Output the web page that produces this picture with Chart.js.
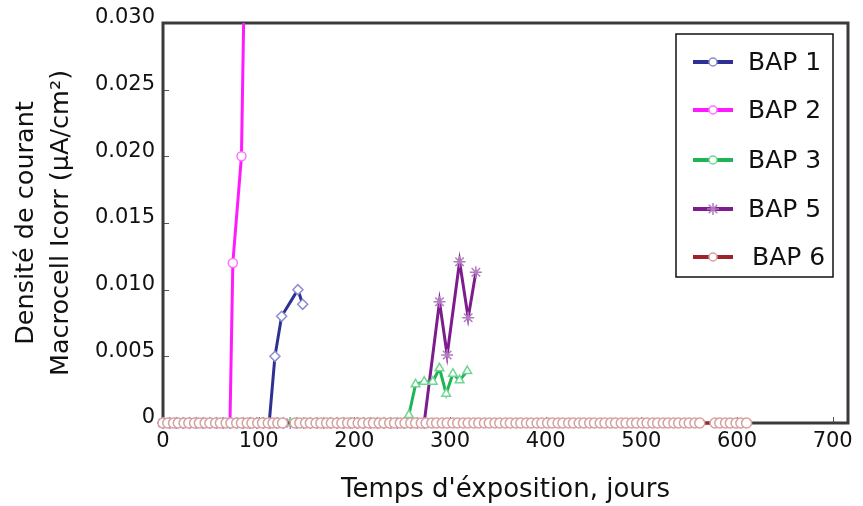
<!DOCTYPE html>
<html>
<head>
<meta charset="utf-8">
<script src="https://cdn.jsdelivr.net/npm/chart.js@4.4.1/dist/chart.umd.min.js"></script>
<style>
  html, body { margin: 0; padding: 0; background: #fff; }
</style>
</head>
<body>
<canvas id="icorrChart" width="863" height="506"></canvas>
<script>
// macrocell current density per specimen (days / uA/cm2)
var bap1Days = [0, 7, 14, 21, 28, 35, 42, 49, 56, 63, 70, 77, 84, 91, 98, 105, 111, 117, 124, 141, 146];
var bap1Icorr = [0, 0, 0, 0, 0, 0, 0, 0, 0, 0, 0, 0, 0, 0, 0, 0, 0, 0.0050, 0.0080, 0.0100, 0.0089];

var bap2Days = [0, 7, 14, 21, 28, 35, 42, 49, 56, 63, 70, 73, 82, 90];
var bap2Icorr = [0, 0, 0, 0, 0, 0, 0, 0, 0, 0, 0, 0.012, 0.020, 0.055];

var bap3Days = [0, 7, 14, 21, 28, 35, 42, 49, 56, 63, 70, 77, 84, 91, 98, 105, 112, 119, 126, 133,
    140, 147, 154, 161, 168, 175, 182, 189, 196, 203, 210, 217, 224, 231, 238, 245, 252,
    257, 264, 273, 282, 289, 296, 303, 310, 318];
var bap3Icorr = [0, 0, 0, 0, 0, 0, 0, 0, 0, 0, 0, 0, 0, 0, 0, 0, 0, 0, 0, 0,
    0, 0, 0, 0, 0, 0, 0, 0, 0, 0, 0, 0, 0, 0, 0, 0, 0,
    0.0006, 0.0029, 0.0031, 0.0031, 0.0041, 0.0022, 0.0037, 0.0032, 0.0039];

var bap5Days = [0, 7, 14, 21, 28, 35, 42, 49, 56, 63, 70, 77, 84, 91, 98, 105, 112, 119, 126, 133,
    140, 147, 154, 161, 168, 175, 182, 189, 196, 203, 210, 217, 224, 231, 238, 245, 252, 259, 266, 273,
    289, 297, 310, 319, 327];
var bap5Icorr = [0, 0, 0, 0, 0, 0, 0, 0, 0, 0, 0, 0, 0, 0, 0, 0, 0, 0, 0, 0,
    0, 0, 0, 0, 0, 0, 0, 0, 0, 0, 0, 0, 0, 0, 0, 0, 0, 0, 0, 0,
    0.0091, 0.0051, 0.0121, 0.0079, 0.0113];

var bap6Days = [0, 5, 11, 16, 22, 27, 33, 38, 44, 49, 55, 60, 66, 71, 77, 82, 88, 93, 99, 104,
    110, 115, 120, 125, 138, 143, 149, 154, 160, 165, 171, 176, 182, 187, 193, 198, 204, 209, 215, 220,
    226, 231, 237, 242, 248, 253, 259, 264, 270, 275, 281, 286, 292, 297, 303, 308, 314, 319, 325, 330,
    336, 341, 347, 352, 358, 363, 369, 374, 380, 385, 391, 396, 402, 407, 413, 418, 424, 429, 435, 440,
    446, 451, 457, 462, 468, 473, 479, 484, 490, 495, 501, 506, 512, 517, 523, 528, 534, 539, 545, 550,
    556, 561, 577, 582, 588, 593, 599, 604, 610];
var bap6Icorr = [0, 0, 0, 0, 0, 0, 0, 0, 0, 0, 0, 0, 0, 0, 0, 0, 0, 0, 0, 0,
    0, 0, 0, 0, 0, 0, 0, 0, 0, 0, 0, 0, 0, 0, 0, 0, 0, 0, 0, 0,
    0, 0, 0, 0, 0, 0, 0, 0, 0, 0, 0, 0, 0, 0, 0, 0, 0, 0, 0, 0,
    0, 0, 0, 0, 0, 0, 0, 0, 0, 0, 0, 0, 0, 0, 0, 0, 0, 0, 0, 0,
    0, 0, 0, 0, 0, 0, 0, 0, 0, 0, 0, 0, 0, 0, 0, 0, 0, 0, 0, 0,
    0, 0, 0, 0, 0, 0, 0, 0, 0];

var xTicks = [0, 100, 200, 300, 400, 500, 600, 700];
var yTicks = [0, 0.005, 0.010, 0.015, 0.020, 0.025, 0.030];

function toPoints(days, vals) {
    return days.map(function (d, i) { return { x: d, y: vals[i] }; });
}

var FONT = "'DejaVu Sans', sans-serif";
var TEXT = '#111';

function series(label, days, vals, line, marker, style, radius, order) {
    return {
        label: label,
        data: toPoints(days, vals),
        borderColor: line,
        borderWidth: 3,
        pointStyle: style,
        pointRadius: radius,
        pointBorderColor: marker,
        pointBackgroundColor: '#ffffff',
        pointBorderWidth: 1.5,
        tension: 0,
        order: order,
        clip: { left: 8, top: 0, right: 8, bottom: 8 }
    };
}

var datasets = [
    series('BAP 1', bap1Days, bap1Icorr, '#2e3192', '#8c8cd2', 'rectRot', 5, 2),
    series('BAP 2', bap2Days, bap2Icorr, '#ff1aff', '#ff70ff', 'circle', 4.5, 2),
    series('BAP 3', bap3Days, bap3Icorr, '#1fb556', '#6fd694', 'triangle', 5, 2),
    series('BAP 5', bap5Days, bap5Icorr, '#7d1d8d', '#b27ac0', 'star', 6, 2),
    series('BAP 6', bap6Days, bap6Icorr, '#a0222a', '#d6a0a0', 'circle', 5, 1)
];

// frame, inward tick marks and the boxed legend
var framePlugin = {
    id: 'frame',
    beforeDatasetsDraw: function (chart) {
        var ctx = chart.ctx, a = chart.chartArea;
        var xs = chart.scales.x, ys = chart.scales.y;
        ctx.save();
        ctx.strokeStyle = '#555';
        ctx.lineWidth = 1;
        ctx.beginPath();
        yTicks.forEach(function (v) {
            var y = Math.round(ys.getPixelForValue(v)) + 0.5;
            ctx.moveTo(a.left, y); ctx.lineTo(a.left + 6, y);
        });
        xTicks.forEach(function (v) {
            var x = Math.round(xs.getPixelForValue(v)) + 0.5;
            ctx.moveTo(x, a.bottom); ctx.lineTo(x, a.bottom - 6);
        });
        ctx.stroke();
        ctx.strokeStyle = '#3a3a3a';
        ctx.lineWidth = 3;
        ctx.strokeRect(a.left, a.top, a.right - a.left, a.bottom - a.top);
        ctx.restore();
    },
    afterDraw: function (chart) {
        var ctx = chart.ctx;
        var box = { x: 676, y: 34, w: 157, h: 243 };
        var rows = [62, 110, 160, 209, 257];
        ctx.save();
        ctx.fillStyle = '#fff';
        ctx.fillRect(box.x, box.y, box.w, box.h);
        ctx.strokeStyle = '#111';
        ctx.lineWidth = 1.5;
        ctx.strokeRect(box.x, box.y, box.w, box.h);
        chart.data.datasets.forEach(function (ds, i) {
            var y = rows[i];
            ctx.strokeStyle = ds.borderColor;
            ctx.lineWidth = 4;
            ctx.beginPath();
            ctx.moveTo(693, y); ctx.lineTo(733, y);
            ctx.stroke();
            ctx.fillStyle = '#fff';
            ctx.strokeStyle = ds.pointBorderColor;
            ctx.lineWidth = 1.5;
            Chart.helpers.drawPoint(ctx, {
                pointStyle: ds.pointStyle === 'star' ? 'star' : 'circle',
                radius: ds.pointStyle === 'star' ? 6 : 4,
                rotation: 0,
                borderWidth: 1.5
            }, 713, y);
            ctx.fillStyle = TEXT;
            ctx.font = '25px ' + FONT;
            ctx.textBaseline = 'middle';
            ctx.textAlign = 'left';
            ctx.fillText(ds.label, i === 4 ? 752 : 748, y + 1);
        });
        ctx.restore();
    }
};

new Chart(document.getElementById('icorrChart'), {
    type: 'line',
    data: { datasets: datasets },
    options: {
        responsive: false,
        animation: false,
        layout: { padding: { top: 23, right: 15, bottom: 0, left: 0 } },
        plugins: {
            legend: { display: false },
            tooltip: { enabled: false }
        },
        scales: {
            x: {
                type: 'linear',
                min: 0,
                max: 716,
                afterFit: function (s) { s.height = 83; },
                afterBuildTicks: function (s) {
                    s.ticks = xTicks.map(function (v) { return { value: v }; });
                },
                grid: { display: false, drawTicks: false },
                border: { display: false },
                ticks: {
                    padding: 6,
                    color: TEXT,
                    font: { family: FONT, size: 21 },
                    maxRotation: 0
                },
                title: {
                    display: true,
                    text: "Temps d'éxposition, jours",
                    color: TEXT,
                    font: { family: FONT, size: 26 },
                    padding: { top: 0, bottom: 0 }
                }
            },
            y: {
                min: 0,
                max: 0.030,
                afterFit: function (s) { s.width = 163; },
                afterBuildTicks: function (s) {
                    s.ticks = yTicks.map(function (v) { return { value: v }; });
                },
                grid: { display: false, drawTicks: false },
                border: { display: false },
                ticks: {
                    padding: 8,
                    labelOffset: -5,
                    color: TEXT,
                    font: { family: FONT, size: 21 },
                    callback: function (v) { return v === 0 ? '0' : v.toFixed(3); }
                },
                title: {
                    display: true,
                    text: ['Densité de courant', 'Macrocell Icorr (μA/cm²)'],
                    color: TEXT,
                    font: { family: FONT, size: 25.5, lineHeight: 1.37 },
                    padding: { top: 9, bottom: 0 }
                }
            }
        }
    },
    plugins: [framePlugin]
});
</script>
</body>
</html>
